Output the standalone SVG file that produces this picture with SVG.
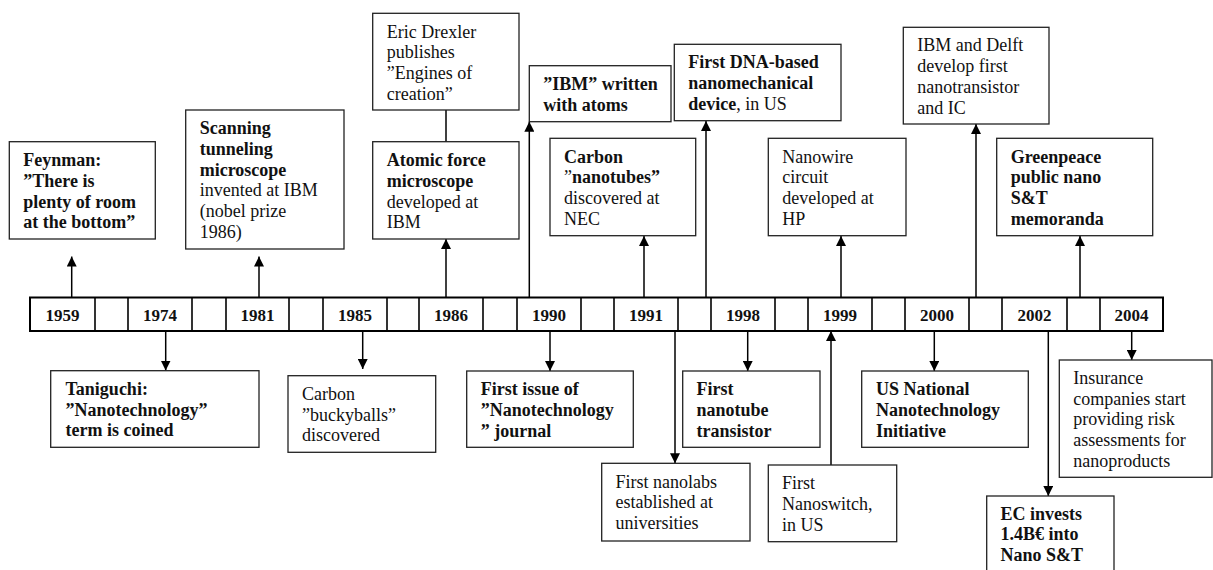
<svg xmlns="http://www.w3.org/2000/svg" width="1213" height="570" viewBox="0 0 1213 570">
<style>
.box{fill:#fff;stroke:#222;stroke-width:1.3}
.t{font-family:"Liberation Serif","Times New Roman",serif;font-size:18px;fill:#111}
.b{font-weight:bold}
.n{font-weight:normal}
.yr{font-family:"Liberation Serif","Times New Roman",serif;font-size:17px;font-weight:bold;fill:#111;text-anchor:middle}
.bar{fill:#fff;stroke:#000;stroke-width:2}
.div{stroke:#000;stroke-width:1.6}
.conn{stroke:#000;stroke-width:1.5;fill:none}
.arr{marker-end:url(#ah)}
</style>
<defs>
<marker id="ah" markerUnits="userSpaceOnUse" markerWidth="10" markerHeight="10" refX="10" refY="5" orient="auto">
<path d="M0,0 L10,5 L0,10 z" fill="#000"/>
</marker>
</defs>

<g id="timeline">
<rect class="bar" x="30" y="297.5" width="1133" height="33.5"/>
<g class="div">
<line x1="95" y1="297.5" x2="95" y2="331"/><line x1="128" y1="297.5" x2="128" y2="331"/>
<line x1="192" y1="297.5" x2="192" y2="331"/><line x1="226" y1="297.5" x2="226" y2="331"/>
<line x1="289" y1="297.5" x2="289" y2="331"/><line x1="323" y1="297.5" x2="323" y2="331"/>
<line x1="387" y1="297.5" x2="387" y2="331"/><line x1="419" y1="297.5" x2="419" y2="331"/>
<line x1="483" y1="297.5" x2="483" y2="331"/><line x1="517" y1="297.5" x2="517" y2="331"/>
<line x1="581" y1="297.5" x2="581" y2="331"/><line x1="614" y1="297.5" x2="614" y2="331"/>
<line x1="678" y1="297.5" x2="678" y2="331"/><line x1="711" y1="297.5" x2="711" y2="331"/>
<line x1="775" y1="297.5" x2="775" y2="331"/><line x1="808" y1="297.5" x2="808" y2="331"/>
<line x1="872" y1="297.5" x2="872" y2="331"/><line x1="905" y1="297.5" x2="905" y2="331"/>
<line x1="969" y1="297.5" x2="969" y2="331"/><line x1="1002" y1="297.5" x2="1002" y2="331"/>
<line x1="1067" y1="297.5" x2="1067" y2="331"/><line x1="1100" y1="297.5" x2="1100" y2="331"/>
</g>
<text class="yr" x="62.5" y="321">1959</text>
<text class="yr" x="160" y="321">1974</text>
<text class="yr" x="257.5" y="321">1981</text>
<text class="yr" x="355" y="321">1985</text>
<text class="yr" x="451" y="321">1986</text>
<text class="yr" x="549" y="321">1990</text>
<text class="yr" x="646" y="321">1991</text>
<text class="yr" x="743" y="321">1998</text>
<text class="yr" x="840" y="321">1999</text>
<text class="yr" x="937" y="321">2000</text>
<text class="yr" x="1034.5" y="321">2002</text>
<text class="yr" x="1131.5" y="321">2004</text>
</g>

<g id="connectors" class="conn">
<line class="arr" x1="71.7" y1="297" x2="71.7" y2="256.5"/>
<line class="arr" x1="259" y1="297" x2="259" y2="256.5"/>
<line class="arr" x1="446" y1="297" x2="446" y2="239"/>
<line x1="446" y1="110" x2="446" y2="142"/>
<line class="arr" x1="529.3" y1="297" x2="529.3" y2="121.7"/>
<line class="arr" x1="644" y1="297" x2="644" y2="236"/>
<line class="arr" x1="706" y1="297" x2="706" y2="121"/>
<line class="arr" x1="841" y1="297" x2="841" y2="236"/>
<line class="arr" x1="976" y1="297" x2="976" y2="124"/>
<line class="arr" x1="1080" y1="297" x2="1080" y2="236"/>
<line class="arr" x1="165.7" y1="331" x2="165.7" y2="370.5"/>
<line class="arr" x1="362.7" y1="331" x2="362.7" y2="369"/>
<line class="arr" x1="550" y1="331" x2="550" y2="371"/>
<line class="arr" x1="675" y1="331" x2="675" y2="463.3"/>
<line class="arr" x1="747.7" y1="331" x2="747.7" y2="371"/>
<line class="arr" x1="831" y1="465" x2="831" y2="331"/>
<line class="arr" x1="934.3" y1="331" x2="934.3" y2="371"/>
<line class="arr" x1="1048.3" y1="331" x2="1048.3" y2="496"/>
<line class="arr" x1="1131.7" y1="331" x2="1131.7" y2="360"/>
</g>

<g id="feynman">
<rect class="box" x="9.3" y="141.7" width="146" height="97.3"/>
<text class="t b" y="166"><tspan x="23.3">Feynman:</tspan><tspan x="23.3" dy="20.8">”There is</tspan><tspan x="23.3" dy="20.8">plenty of room</tspan><tspan x="23.3" dy="20.8">at the bottom”</tspan></text>
</g>

<g id="stm">
<rect class="box" x="185.7" y="110" width="158.3" height="139"/>
<text class="t" y="134"><tspan class="b" x="199.7">Scanning</tspan><tspan class="b" x="199.7" dy="20.8">tunneling</tspan><tspan class="b" x="199.7" dy="20.8">microscope</tspan><tspan x="199.7" dy="20.8">invented at IBM</tspan><tspan x="199.7" dy="20.8">(nobel prize</tspan><tspan x="199.7" dy="20.8">1986)</tspan></text>
</g>

<g id="drexler">
<rect class="box" x="372.7" y="13.3" width="146.3" height="96.7"/>
<text class="t" y="37.5"><tspan x="386.7">Eric Drexler</tspan><tspan x="386.7" dy="20.8">publishes</tspan><tspan x="386.7" dy="20.8">”Engines of</tspan><tspan x="386.7" dy="20.8">creation”</tspan></text>
</g>

<g id="afm">
<rect class="box" x="372.7" y="141.7" width="146.3" height="97.3"/>
<text class="t" y="166"><tspan class="b" x="386.7">Atomic force</tspan><tspan class="b" x="386.7" dy="20.8">microscope</tspan><tspan x="386.7" dy="20.8">developed at</tspan><tspan x="386.7" dy="20.8">IBM</tspan></text>
</g>

<g id="ibm-atoms">
<rect class="box" x="529.3" y="65.7" width="141.7" height="56"/>
<text class="t b" y="89.7"><tspan x="543.3">”IBM” written</tspan><tspan x="543.3" dy="20.8">with atoms</tspan></text>
</g>

<g id="nanotubes">
<rect class="box" x="550" y="138.3" width="145.7" height="97.4"/>
<text class="t" y="162.5"><tspan class="b" x="564">Carbon</tspan><tspan x="564" dy="20.8">”<tspan class="b">nanotubes”</tspan></tspan><tspan x="564" dy="20.8">discovered at</tspan><tspan x="564" dy="20.8">NEC</tspan></text>
</g>

<g id="dna">
<rect class="box" x="674.3" y="44.3" width="166.7" height="76.4"/>
<text class="t" y="68.3"><tspan class="b" x="688.3">First DNA-based</tspan><tspan class="b" x="688.3" dy="20.8">nanomechanical</tspan><tspan x="688.3" dy="20.8"><tspan class="b">device</tspan>, in US</tspan></text>
</g>

<g id="nanowire">
<rect class="box" x="768.3" y="138.3" width="137.7" height="97.4"/>
<text class="t" y="162.5"><tspan x="782.3">Nanowire</tspan><tspan x="782.3" dy="20.8">circuit</tspan><tspan x="782.3" dy="20.8">developed at</tspan><tspan x="782.3" dy="20.8">HP</tspan></text>
</g>

<g id="delft">
<rect class="box" x="903.3" y="27.3" width="145.7" height="96.7"/>
<text class="t" y="51.3"><tspan x="917.3">IBM and Delft</tspan><tspan x="917.3" dy="20.8">develop first</tspan><tspan x="917.3" dy="20.8">nanotransistor</tspan><tspan x="917.3" dy="20.8">and IC</tspan></text>
</g>

<g id="greenpeace">
<rect class="box" x="996.7" y="138.3" width="156" height="97.4"/>
<text class="t b" y="162.5"><tspan x="1010.7">Greenpeace</tspan><tspan x="1010.7" dy="20.8">public nano</tspan><tspan x="1010.7" dy="20.8">S&amp;T</tspan><tspan x="1010.7" dy="20.8">memoranda</tspan></text>
</g>

<g id="taniguchi">
<rect class="box" x="50.7" y="370.7" width="208.3" height="76.6"/>
<text class="t b" y="394.8"><tspan x="65.5">Taniguchi:</tspan><tspan x="65.5" dy="20.8">”Nanotechnology”</tspan><tspan x="65.5" dy="20.8">term is coined</tspan></text>
</g>

<g id="buckyballs">
<rect class="box" x="288" y="375.7" width="147.7" height="76.6"/>
<text class="t" y="399.8"><tspan x="302">Carbon</tspan><tspan x="302" dy="20.8">”buckyballs”</tspan><tspan x="302" dy="20.8">discovered</tspan></text>
</g>

<g id="journal">
<rect class="box" x="466.7" y="371" width="166.6" height="76.3"/>
<text class="t b" y="395"><tspan x="480.7">First issue of</tspan><tspan x="480.7" dy="20.8">”Nanotechnology</tspan><tspan x="480.7" dy="20.8">” journal</tspan></text>
</g>

<g id="nanolabs">
<rect class="box" x="601.7" y="463.3" width="148.3" height="77.7"/>
<text class="t" y="487.5"><tspan x="615.5">First nanolabs</tspan><tspan x="615.5" dy="20.8">established at</tspan><tspan x="615.5" dy="20.8">universities</tspan></text>
</g>

<g id="nanotube-transistor">
<rect class="box" x="682.7" y="371" width="137.3" height="76.3"/>
<text class="t b" y="395"><tspan x="696.5">First</tspan><tspan x="696.5" dy="20.8">nanotube</tspan><tspan x="696.5" dy="20.8">transistor</tspan></text>
</g>

<g id="nanoswitch">
<rect class="box" x="768.3" y="465" width="128.4" height="76.7"/>
<text class="t" y="489"><tspan x="782">First</tspan><tspan x="782" dy="20.8">Nanoswitch,</tspan><tspan x="782" dy="20.8">in US</tspan></text>
</g>

<g id="nni">
<rect class="box" x="861.7" y="371" width="166.6" height="76.3"/>
<text class="t b" y="395"><tspan x="876">US National</tspan><tspan x="876" dy="20.8">Nanotechnology</tspan><tspan x="876" dy="20.8">Initiative</tspan></text>
</g>

<g id="ec">
<rect class="box" x="986.7" y="496" width="127.3" height="90"/>
<text class="t b" y="519.5"><tspan x="1000.5">EC invests</tspan><tspan x="1000.5" dy="20.8">1.4B€ into</tspan><tspan x="1000.5" dy="20.8">Nano S&amp;T</tspan></text>
</g>

<g id="insurance">
<rect class="box" x="1059.3" y="360" width="152.7" height="117.3"/>
<text class="t" y="383.8"><tspan x="1073.3">Insurance</tspan><tspan x="1073.3" dy="20.8">companies start</tspan><tspan x="1073.3" dy="20.8">providing risk</tspan><tspan x="1073.3" dy="20.8">assessments for</tspan><tspan x="1073.3" dy="20.8">nanoproducts</tspan></text>
</g>
</svg>
